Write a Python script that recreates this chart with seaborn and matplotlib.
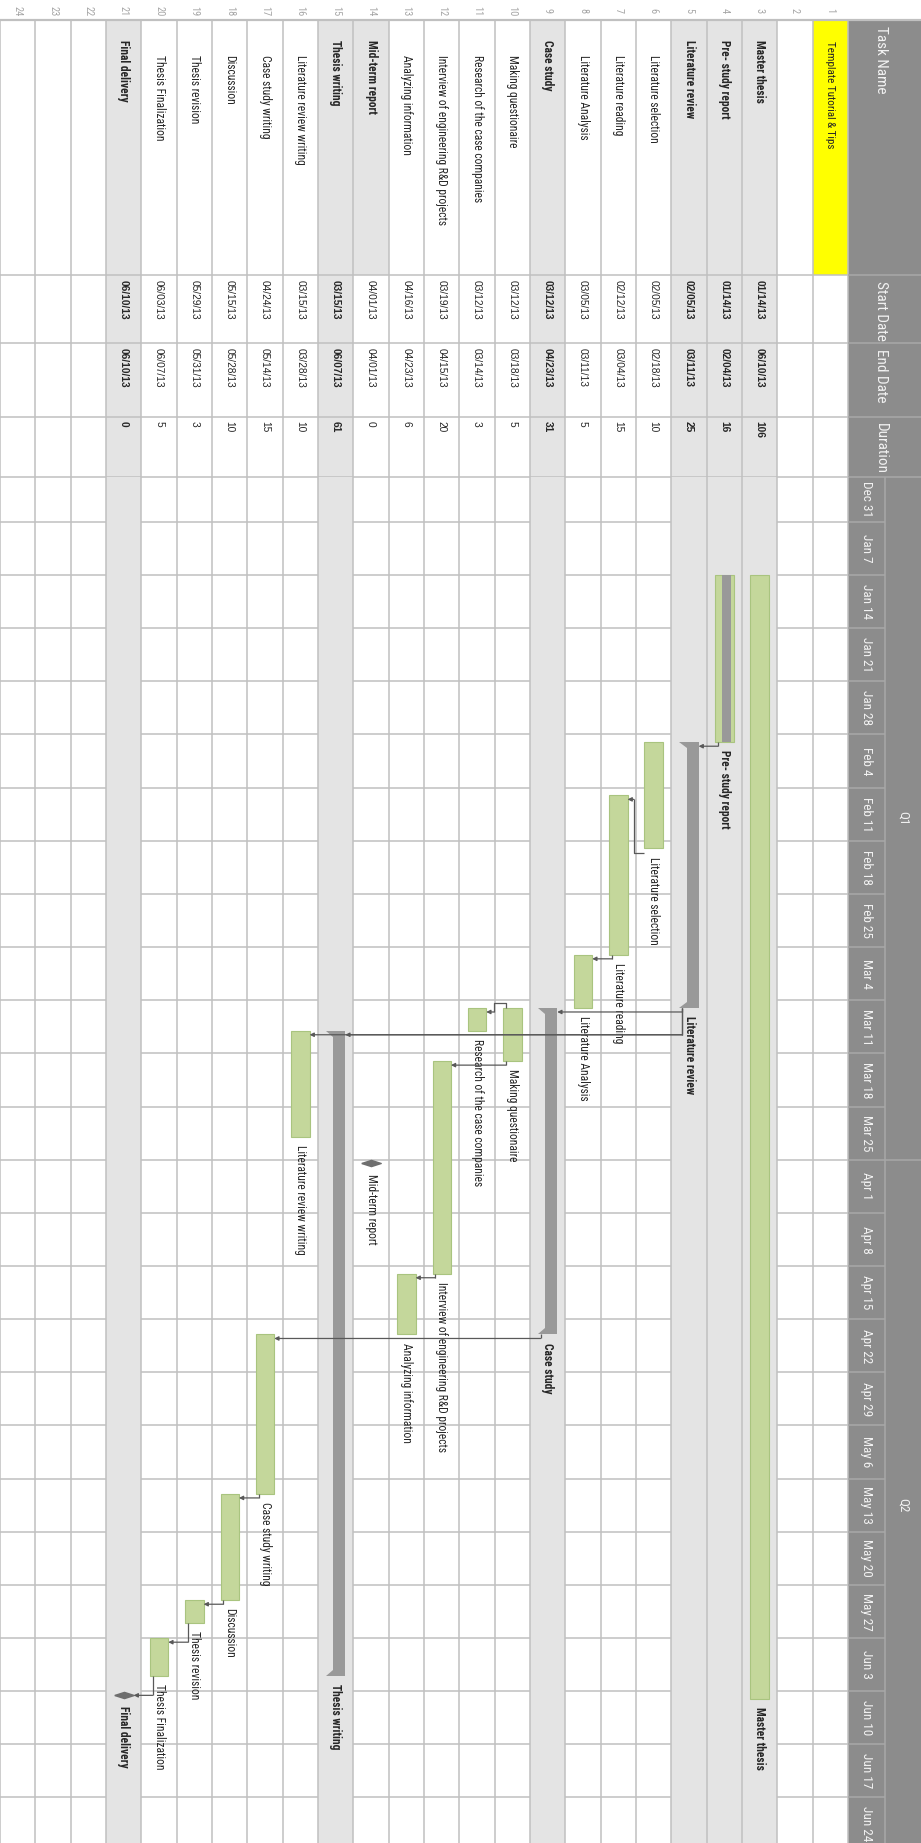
import matplotlib
matplotlib.use("Agg")
import matplotlib.pyplot as plt
import matplotlib.dates as mdates
from matplotlib import font_manager as fm
from matplotlib.patches import Rectangle
import seaborn as sns
import numpy as np
import pandas as pd

sns.set_style("white")


# pick a narrow family that has a regular and a bold face
def weight_num(w):
    return w if isinstance(w, int) else fm.weight_dict.get(str(w), 400)


faces = {}
for f in fm.fontManager.ttflist:
    faces.setdefault(f.name, set()).add(weight_num(f.weight))
prefs = ["Liberation Sans Narrow", "Arial Narrow", "Roboto Condensed", "PT Sans Narrow",
         "Archivo Narrow", "Open Sans Condensed", "Fira Sans Condensed", "IBM Plex Sans Condensed",
         "Barlow Semi Condensed", "Encode Sans Semi Condensed", "Saira SemiCondensed"]
prefs += sorted(n for n in faces if "Narrow" in n or "Condensed" in n)
NARROW = "Liberation Sans"
for n in prefs:
    if n in faces and 400 in faces[n] and max(faces[n]) >= 700:
        NARROW = n
        break
plt.rcParams["font.family"] = [NARROW, "DejaVu Sans"]

# ---- data ----
rows = [3, 4, 5, 6, 7, 8, 9, 10, 11, 12, 13, 14, 15, 16, 17, 18, 19, 20, 21]
task_names = ["Master thesis", "Pre- study report", "Literature review", "Literature selection",
              "Literature reading", "Literature Analysis", "Case study", "Making questionaire",
              "Research of the case companies", "Interview of engineering R&D projects",
              "Analyzing information", "Mid-term report", "Thesis writing",
              "Literature review writing", "Case study writing", "Discussion", "Thesis revision",
              "Thesis Finalization", "Final delivery"]
start_dates = ["01/14/13", "01/14/13", "02/05/13", "02/05/13", "02/12/13", "03/05/13", "03/12/13",
               "03/12/13", "03/12/13", "03/19/13", "04/16/13", "04/01/13", "03/15/13", "03/15/13",
               "04/24/13", "05/15/13", "05/29/13", "06/03/13", "06/10/13"]
end_dates = ["06/10/13", "02/04/13", "03/11/13", "02/18/13", "03/04/13", "03/11/13", "04/23/13",
             "03/18/13", "03/14/13", "04/15/13", "04/23/13", "04/01/13", "06/07/13", "03/28/13",
             "05/14/13", "05/28/13", "05/31/13", "06/07/13", "06/10/13"]
durations = [106, 16, 25, 10, 15, 5, 31, 5, 3, 20, 6, 0, 61, 10, 15, 10, 3, 5, 0]
kinds = ["project", "phase", "summary", "task", "task", "task", "summary", "task", "task", "task",
         "task", "milestone", "summary", "task", "task", "task", "task", "task", "milestone"]
bold_rows = [3, 4, 5, 9, 15, 21]
links = [(4, 5, "FS"), (6, 7, "FS"), (7, 8, "FS"), (5, 9, "FS"), (5, 15, "FS"), (5, 16, "FS"),
         (10, 11, "SS"), (10, 12, "FS"), (12, 13, "FS"), (9, 17, "FS"), (17, 18, "FS"),
         (18, 19, "FS"), (19, 20, "FS"), (20, 21, "FS")]
week_labels = ["Dec 31", "Jan 7", "Jan 14", "Jan 21", "Jan 28", "Feb 4", "Feb 11", "Feb 18",
               "Feb 25", "Mar 4", "Mar 11", "Mar 18", "Mar 25", "Apr 1", "Apr 8", "Apr 15",
               "Apr 22", "Apr 29", "May 6", "May 13", "May 20", "May 27", "Jun 3", "Jun 10",
               "Jun 17", "Jun 24"]
quarters = ["Q1", "Q2"]
quarter_starts = ["2013-01-01", "2013-04-01", "2013-07-01"]
header_cols = ["Task Name", "Start Date", "End Date", "Duration"]

df = pd.DataFrame({"row": rows, "name": task_names, "start": start_dates, "end": end_dates,
                   "dur": durations, "kind": kinds})
df["s"] = mdates.date2num(pd.to_datetime(df["start"], format="%m/%d/%y"))
df["e"] = mdates.date2num(pd.to_datetime(df["end"], format="%m/%d/%y")) + 1
df = df.set_index("row")

# ---- layout ----
W, H, DPI = 921, 1843, 100
ROW_PX = 35.33
RIGHT_PX = 848
COLS = [20, 275, 343, 417, 477]
DAY_PX = 7.593
DEC31_PX = 468.7
XL = (0.5 + RIGHT_PX / ROW_PX, 0.5 - (W - RIGHT_PX) / ROW_PX)
XQ = 0.5 - 37 / ROW_PX
d0 = mdates.date2num(pd.Timestamp("2012-12-31"))
YL = (d0 + (H - DEC31_PX) / DAY_PX, d0 + (COLS[-1] - DEC31_PX) / DAY_PX)

GRID = "#C0C0C0"
BAND = "#E4E4E4"
HEAD = "#8C8C8C"
HEAD_LINE = "#A8A8A8"
HEAD_TXT = "#F2F2F2"
GREEN = "#C4D79B"
GREEN_EDGE = "#A9C47F"
SUMM = "#999999"
LINK = "#595959"
FS_TASK = 8.3
FS_HEAD = 11
FS_WEEK = 9.5

fig = plt.figure(figsize=(W / DPI, H / DPI), dpi=DPI)
fig.patch.set_facecolor("white")

ax_t = fig.add_axes([0, 0, 1, 1])
ax_t.set_xlim(XL)
ax_t.set_ylim(H, 0)
ax_t.axis("off")

ax = fig.add_axes([0, 0, 1, (H - COLS[-1]) / H])
ax.set_xlim(XL)
ax.set_ylim(YL)
ax.axis("off")

rot = dict(rotation=-90, rotation_mode="anchor")

# ---- table part ----
ax_t.add_patch(Rectangle((0.5, COLS[0]), 1, COLS[1] - COLS[0], color="#FFFF00", lw=0, zorder=1))
for r in bold_rows:
    ax_t.add_patch(Rectangle((r - 0.5, COLS[0]), 1, COLS[-1] - COLS[0], color=BAND, lw=0, zorder=1))
ax_t.add_patch(Rectangle((13.5, COLS[0]), 1, COLS[1] - COLS[0], color=BAND, lw=0, zorder=1))
ax_t.vlines(np.arange(0.5, 25), COLS[0], COLS[-1], color=GRID, lw=1.1, zorder=2)
ax_t.hlines(COLS[1:], 0.5, XL[0], color=GRID, lw=1.1, zorder=2)
ax_t.hlines(COLS[0], XL[0], XL[1], color=GRID, lw=1.6, zorder=2)

# header column
ax_t.add_patch(Rectangle((0.5, COLS[0]), XL[1] - 0.5, H - COLS[0], color=HEAD, lw=0, zorder=1))
ax_t.hlines(COLS[1:], XL[1], 0.5, color=HEAD_LINE, lw=1.1, zorder=2)
for name, y0 in zip(header_cols, COLS[:-1]):
    ax_t.text(-0.43, y0 + 6, name, color=HEAD_TXT, fontsize=FS_HEAD, ha="left", va="center", **rot)

# row numbers
for k in range(1, 25):
    ax_t.text(k, 11, str(k), color="#A6A6A6", fontsize=7.5, ha="center", va="center", **rot)

ax_t.text(1, 41, "Template Tutorial & Tips", fontsize=FS_TASK - 0.3, ha="left", va="center", **rot)
for r, t in df.iterrows():
    bold = r in bold_rows or t["kind"] == "milestone"
    ax_t.text(r, 40 if bold else 55, t["name"], fontsize=FS_TASK, ha="left", va="center",
              fontweight="bold" if bold else "normal", **rot)
    fw = "bold" if r in bold_rows else "normal"
    ax_t.text(r, COLS[1] + 5, t["start"], fontsize=7.3, ha="left", va="center", fontweight=fw,
              family="Liberation Sans", **rot)
    ax_t.text(r, COLS[2] + 5, t["end"], fontsize=7.3, ha="left", va="center", fontweight=fw,
              family="Liberation Sans", **rot)
    ax_t.text(r, COLS[3] + 4, str(t["dur"]), fontsize=7.3, ha="left", va="center", fontweight=fw,
              family="Liberation Sans", **rot)

# ---- gantt grid ----
weeks = d0 + 7 * np.arange(len(week_labels))
ax.hlines(weeks[1:], 0.5, XL[0], color=GRID, lw=1.1, zorder=0)
for r in bold_rows:
    ax.axvspan(r - 0.5, r + 0.5, color=BAND, lw=0, zorder=1)
ax.vlines(np.arange(0.5, 25), YL[1], YL[0], color=GRID, lw=1.1, zorder=2)

# timeline header
ax.hlines(weeks[1:], 0.5, XQ, color=HEAD_LINE, lw=1.1, zorder=2)
ax.vlines(XQ, YL[1], YL[0], color=HEAD_LINE, lw=1.1, zorder=2)
qs = mdates.date2num(pd.to_datetime(quarter_starts))
ax.hlines(qs[1], XQ, XL[1], color=HEAD_LINE, lw=1.1, zorder=2)
for lab, w in zip(week_labels, weeks):
    top = max(w, YL[1])
    ax.text((0.5 + XQ) / 2, (top + w + 7) / 2, lab, color=HEAD_TXT, fontsize=FS_WEEK, ha="center",
            va="center", **rot)
for lab, a, b in zip(quarters, qs[:-1], qs[1:]):
    ax.text((XQ + XL[1]) / 2, (a + b) / 2, lab, color=HEAD_TXT, fontsize=FS_WEEK, ha="center",
            va="center", **rot)

# ---- bars ----
tasks = df[df["kind"].isin(["task", "project", "phase"])]
ax.bar(tasks.index, tasks["e"] - tasks["s"], bottom=tasks["s"], width=0.52, color=GREEN,
       edgecolor=GREEN_EDGE, lw=0.8, zorder=3)
phase = df[df["kind"] == "phase"]
ax.bar(phase.index - 0.055, phase["e"] - phase["s"], bottom=phase["s"], width=0.26, color=SUMM,
       lw=0, zorder=4)
summ = df[df["kind"] == "summary"]
ax.bar(summ.index - 0.1, summ["e"] - summ["s"], bottom=summ["s"], width=0.34, color=SUMM,
       lw=0, zorder=4)
for r, t in summ.iterrows():
    ax.fill([r + 0.27, r + 0.07, r + 0.07], [t["s"], t["s"], t["s"] + 0.8], color=SUMM, lw=0, zorder=4)
    ax.fill([r + 0.27, r + 0.07, r + 0.07], [t["e"], t["e"], t["e"] - 0.8], color=SUMM, lw=0, zorder=4)

diamond = [(-1, 0), (0, 0.32), (1, 0), (0, -0.32), (-1, 0)]
ms = df[df["kind"] == "milestone"]
ax.plot(ms.index, ms["s"] + 0.5, ls="none", marker=diamond, ms=14, color="#6E6E6E", zorder=4)

# bar labels
for r, t in df.iterrows():
    if t["kind"] == "milestone":
        y = t["s"] + 1.9
    else:
        y = t["e"] + 1.1
    fw = "bold" if r in bold_rows else "normal"
    ax.text(r, y, t["name"], fontsize=FS_TASK, fontweight=fw, ha="left", va="center", zorder=5, **rot)


# ---- dependency links ----
def x_from(r):
    k = df.loc[r, "kind"]
    return r + (0.2 if k == "summary" else 0.18)


def x_to(r):
    k = df.loc[r, "kind"]
    if k == "milestone":
        return r - 0.28
    return r - 0.27 if k == "summary" else r - 0.26


for a, b, typ in links:
    ya = df.loc[a, "s"] if typ == "SS" else df.loc[a, "e"]
    yb = df.loc[b, "s"] + 0.55
    xa, xb = x_from(a), x_to(b)
    if typ == "SS":
        xm = (a + b) / 2 + 0.02
        px = [xa, xa, xm, xm]
        py = [ya, ya - 0.65, ya - 0.65, yb]
    elif yb < ya + 0.5:
        xm = (a + b) / 2 + 0.06
        px = [xa + 0.1, xm, xm]
        py = [ya + 0.65, ya + 0.65, yb]
    else:
        px = [xa, xa]
        py = [ya, yb]
    ax.plot(px, py, color=LINK, lw=0.9, zorder=6, solid_capstyle="butt")
    ax.annotate("", xy=(xb, yb), xytext=(px[-1], py[-1]),
                arrowprops=dict(arrowstyle="-|>", color=LINK, lw=0.9, mutation_scale=6,
                                shrinkA=0, shrinkB=0), zorder=6)

fig.savefig("out.png", dpi=DPI, facecolor="white")
